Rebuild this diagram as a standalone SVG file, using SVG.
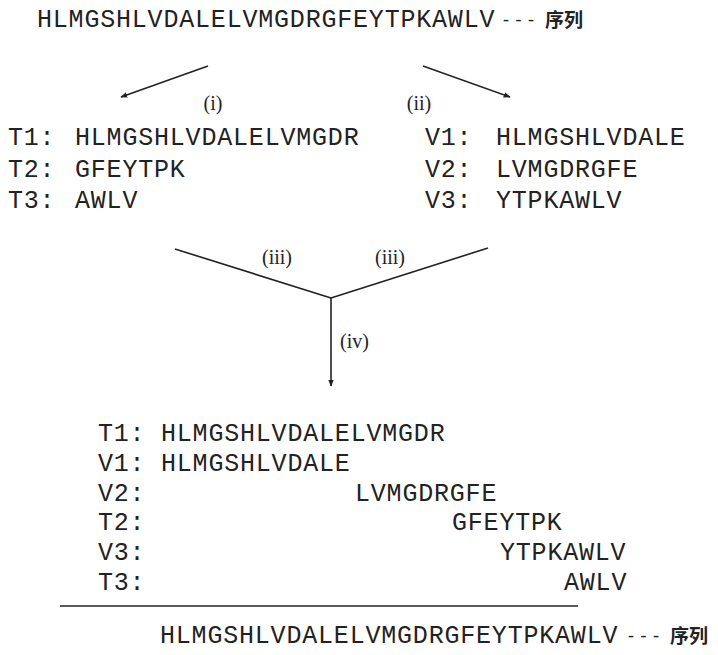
<svg xmlns="http://www.w3.org/2000/svg" width="718" height="655" viewBox="0 0 718 655">
<defs>
<style>
.seq{font-family:"Liberation Mono","DejaVu Sans Mono",monospace;font-size:25px;letter-spacing:0.8px;fill:#222222}
.lab{font-family:"Liberation Serif","DejaVu Serif",serif;font-size:20px;fill:#222222}
.cjk{font-family:"Liberation Serif","Noto Sans CJK SC",sans-serif;font-size:19px;font-weight:bold;fill:#222222}
.dash{font-family:"Liberation Serif",serif;font-size:18px;letter-spacing:1px;fill:#222222}
.ln{stroke:#222222;stroke-width:1.6;fill:none}
</style>
<marker id="ah" viewBox="0 0 10 10" refX="9" refY="5" markerWidth="7" markerHeight="7" markerUnits="userSpaceOnUse" orient="auto">
<path d="M0,1 L10,5 L0,9 z" fill="#222222"/>
</marker>
</defs>
<rect width="718" height="655" fill="#ffffff"/>
<g id="source">
<text class="seq" x="37" y="27">HLMGSHLVDALELVMGDRGFEYTPKAWLV</text>
<text class="dash" x="503" y="25">- - -</text>
<text class="cjk" x="545" y="27">序列</text>
</g>
<g id="connectors">
<line class="ln" x1="208" y1="66" x2="121" y2="97" marker-end="url(#ah)"/>
<line class="ln" x1="423" y1="66" x2="510" y2="97" marker-end="url(#ah)"/>
<line class="ln" x1="175" y1="249" x2="331" y2="298"/>
<line class="ln" x1="488" y1="248" x2="331" y2="298"/>
<line class="ln" x1="331" y1="298" x2="331" y2="386" marker-end="url(#ah)"/>
<line class="ln" x1="60" y1="606" x2="578" y2="606"/>
</g>
<g id="labels">
<text class="lab" x="213" y="110" text-anchor="middle">(i)</text>
<text class="lab" x="419" y="110" text-anchor="middle">(ii)</text>
<text class="lab" x="277" y="264" text-anchor="middle">(iii)</text>
<text class="lab" x="390" y="264" text-anchor="middle">(iii)</text>
<text class="lab" x="340" y="348">(iv)</text>
</g>
<g id="trypsin">
<text class="seq" x="8" y="145">T1:</text><text class="seq" x="75" y="145">HLMGSHLVDALELVMGDR</text>
<text class="seq" x="8" y="177">T2:</text><text class="seq" x="75" y="177">GFEYTPK</text>
<text class="seq" x="8" y="208">T3:</text><text class="seq" x="75" y="208">AWLV</text>
</g>
<g id="v8">
<text class="seq" x="425" y="145">V1:</text><text class="seq" x="496" y="145">HLMGSHLVDALE</text>
<text class="seq" x="425" y="177">V2:</text><text class="seq" x="496" y="177">LVMGDRGFE</text>
<text class="seq" x="425" y="208">V3:</text><text class="seq" x="496" y="208">YTPKAWLV</text>
</g>
<g id="alignment">
<text class="seq" x="98" y="441">T1:</text><text class="seq" x="161" y="441">HLMGSHLVDALELVMGDR</text>
<text class="seq" x="98" y="471">V1:</text><text class="seq" x="161" y="471">HLMGSHLVDALE</text>
<text class="seq" x="98" y="501">V2:</text><text class="seq" x="355" y="501">LVMGDRGFE</text>
<text class="seq" x="98" y="530">T2:</text><text class="seq" x="452" y="530">GFEYTPK</text>
<text class="seq" x="98" y="560">V3:</text><text class="seq" x="500" y="560">YTPKAWLV</text>
<text class="seq" x="98" y="590">T3:</text><text class="seq" x="564" y="590">AWLV</text>
</g>
<g id="result">
<text class="seq" x="160" y="643">HLMGSHLVDALELVMGDRGFEYTPKAWLV</text>
<text class="dash" x="628" y="641">- - -</text>
<text class="cjk" x="670" y="643">序列</text>
</g>
</svg>
